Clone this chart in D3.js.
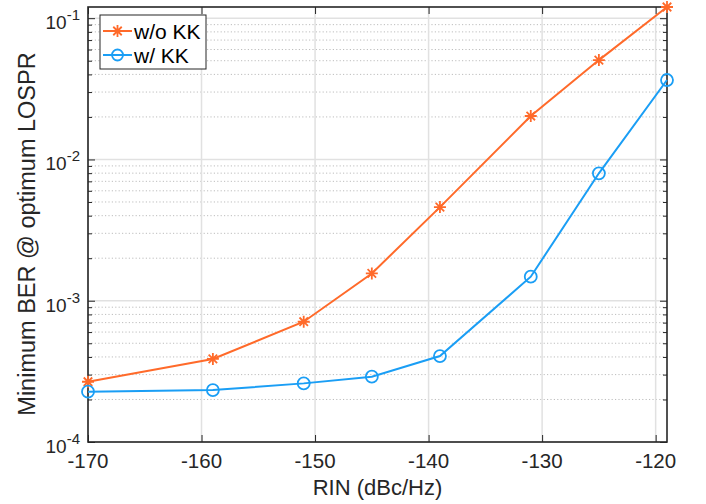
<!DOCTYPE html>
<html>
<head>
<meta charset="utf-8">
<script src="https://cdn.jsdelivr.net/npm/d3@7"></script>
<style>
  body { margin: 0; background: #fff; }
  svg { display: block; font-family: "Liberation Sans", Arial, Helvetica, sans-serif; }
</style>
</head>
<body>
<div class="chart"></div>
<script>
const rin = [-170, -159, -151, -145, -139, -131, -125, -119];
const berNoKK = [2.67e-4, 3.87e-4, 7.1e-4, 1.56e-3, 4.6e-3, 2.03e-2, 5.05e-2, 0.12];
const berKK = [2.27e-4, 2.33e-4, 2.6e-4, 2.9e-4, 4.06e-4, 1.48e-3, 7.98e-3, 3.65e-2];
const xTicks = [-170, -160, -150, -140, -130, -120];
const yExponents = [-4, -3, -2, -1];
const seriesNames = ["w/o KK", "w/ KK"];

const width = 706, height = 504;
const margin = { top: 7, right: 39, bottom: 62, left: 88 };
const axisColor = "#262626";
const orange = "#ff6a2a", blue = "#1a9ef5";

const svg = d3.select(".chart")
  .append("svg")
  .attr("width", width)
  .attr("height", height);

const x = d3.scaleLinear()
  .domain([-170, -119])
  .range([margin.left, width - margin.right]);

const y = d3.scaleLog()
  .domain([1e-4, 0.12])
  .range([height - margin.bottom, margin.top]);

const majorY = yExponents.map(e => Math.pow(10, e));
const minorY = [];
yExponents.forEach(e => {
  for (let k = 2; k <= 9; k++) {
    const v = k * Math.pow(10, e);
    if (v <= y.domain()[1]) minorY.push(v);
  }
});

const x0 = x.range()[0], x1 = x.range()[1];
const y0 = y.range()[0], y1 = y.range()[1];

// grid
const grid = svg.append("g");
grid.selectAll(".minor")
  .data(minorY)
  .join("line")
  .attr("x1", x0).attr("x2", x1)
  .attr("y1", d => y(d)).attr("y2", d => y(d))
  .attr("stroke", "#bdbdbd")
  .attr("stroke-width", 1)
  .attr("stroke-dasharray", "1.2,2.2");
grid.selectAll(".vx")
  .data(xTicks)
  .join("line")
  .attr("x1", d => x(d)).attr("x2", d => x(d))
  .attr("y1", y0).attr("y2", y1)
  .attr("stroke", "#e1e1e1")
  .attr("stroke-width", 1.5);
grid.selectAll(".hy")
  .data(majorY)
  .join("line")
  .attr("x1", x0).attr("x2", x1)
  .attr("y1", d => y(d)).attr("y2", d => y(d))
  .attr("stroke", "#e1e1e1")
  .attr("stroke-width", 1.5);

// axes (ticks inward)
function styleAxis(g) {
  g.select(".domain").remove();
  g.selectAll(".tick line").attr("stroke", axisColor).attr("stroke-width", 1);
  g.selectAll(".tick text").remove();
}
svg.append("g").attr("transform", `translate(0,${y0})`)
  .call(d3.axisBottom(x).tickValues(xTicks).tickSize(-7)).call(styleAxis);
svg.append("g").attr("transform", `translate(0,${y1})`)
  .call(d3.axisTop(x).tickValues(xTicks).tickSize(-7)).call(styleAxis);
svg.append("g").attr("transform", `translate(${x0},0)`)
  .call(d3.axisLeft(y).tickValues(majorY).tickSize(-7)).call(styleAxis);
svg.append("g").attr("transform", `translate(${x0},0)`)
  .call(d3.axisLeft(y).tickValues(minorY).tickSize(-4)).call(styleAxis);
svg.append("g").attr("transform", `translate(${x1},0)`)
  .call(d3.axisRight(y).tickValues(majorY).tickSize(-7)).call(styleAxis);
svg.append("g").attr("transform", `translate(${x1},0)`)
  .call(d3.axisRight(y).tickValues(minorY).tickSize(-4)).call(styleAxis);

// box
svg.append("rect")
  .attr("x", x0).attr("y", y1)
  .attr("width", x1 - x0).attr("height", y0 - y1)
  .attr("fill", "none")
  .attr("stroke", axisColor)
  .attr("stroke-width", 1.6);

// tick labels
svg.append("g").selectAll("text")
  .data(xTicks)
  .join("text")
  .attr("x", d => x(d))
  .attr("y", y0 + 26)
  .attr("text-anchor", "middle")
  .attr("font-size", 20.5)
  .attr("fill", axisColor)
  .text(d => d);

const yl = svg.append("g").selectAll("text")
  .data(yExponents)
  .join("text")
  .attr("x", x0 - 8)
  .attr("y", e => y(Math.pow(10, e)) + 11)
  .attr("text-anchor", "end")
  .attr("font-size", 19)
  .attr("fill", axisColor);
yl.append("tspan").text("10");
yl.append("tspan")
  .attr("font-size", 15)
  .attr("dy", -9)
  .text(e => e);

// axis labels
svg.append("text")
  .attr("x", (x0 + x1) / 2)
  .attr("y", height - 9)
  .attr("text-anchor", "middle")
  .attr("font-size", 22)
  .attr("fill", axisColor)
  .text("RIN (dBc/Hz)");

svg.append("text")
  .attr("transform", `translate(35,234) rotate(-90)`)
  .attr("text-anchor", "middle")
  .attr("font-size", 23.5)
  .attr("fill", axisColor)
  .text("Minimum BER @ optimum LOSPR");

// series
const line = d3.line()
  .x(d => x(d[0]))
  .y(d => y(d[1]));

const starPath = s => {
  const d = s * 0.7071;
  return `M${-s},0L${s},0M0,${-s}L0,${s}M${-d},${-d}L${d},${d}M${-d},${d}L${d},${-d}`;
};

const series = [
  { name: seriesNames[0], values: berNoKK, color: orange, marker: "star" },
  { name: seriesNames[1], values: berKK, color: blue, marker: "circle" }
];

const plot = svg.append("g");
series.forEach(s => {
  const pts = rin.map((r, i) => [r, s.values[i]]);
  plot.append("path")
    .datum(pts)
    .attr("fill", "none")
    .attr("stroke", s.color)
    .attr("stroke-width", 2)
    .attr("d", line);
  if (s.marker === "star") {
    plot.selectAll(null).data(pts).join("path")
      .attr("transform", d => `translate(${x(d[0])},${y(d[1])})`)
      .attr("d", starPath(6))
      .attr("stroke", s.color)
      .attr("stroke-width", 1.8)
      .attr("fill", "none");
  } else {
    plot.selectAll(null).data(pts).join("circle")
      .attr("cx", d => x(d[0]))
      .attr("cy", d => y(d[1]))
      .attr("r", 6)
      .attr("stroke", s.color)
      .attr("stroke-width", 1.8)
      .attr("fill", "none");
  }
});

// legend
const legend = svg.append("g").attr("transform", "translate(100,15)");
legend.append("rect")
  .attr("width", 106).attr("height", 54)
  .attr("fill", "#fff")
  .attr("stroke", axisColor)
  .attr("stroke-width", 1);
series.forEach((s, i) => {
  const ly = 16 + i * 24;
  const row = legend.append("g").attr("transform", `translate(0,${ly})`);
  row.append("line")
    .attr("x1", 3).attr("x2", 32)
    .attr("stroke", s.color).attr("stroke-width", 2);
  if (s.marker === "star") {
    row.append("path").attr("transform", "translate(17.5,0)")
      .attr("d", starPath(6)).attr("stroke", s.color).attr("stroke-width", 1.8);
  } else {
    row.append("circle").attr("cx", 17.5).attr("r", 5.5)
      .attr("fill", "none").attr("stroke", s.color).attr("stroke-width", 1.8);
  }
  row.append("text")
    .attr("x", 34).attr("y", 7.5)
    .attr("font-size", 21)
    .attr("fill", "#000")
    .text(s.name);
});
</script>
</body>
</html>
